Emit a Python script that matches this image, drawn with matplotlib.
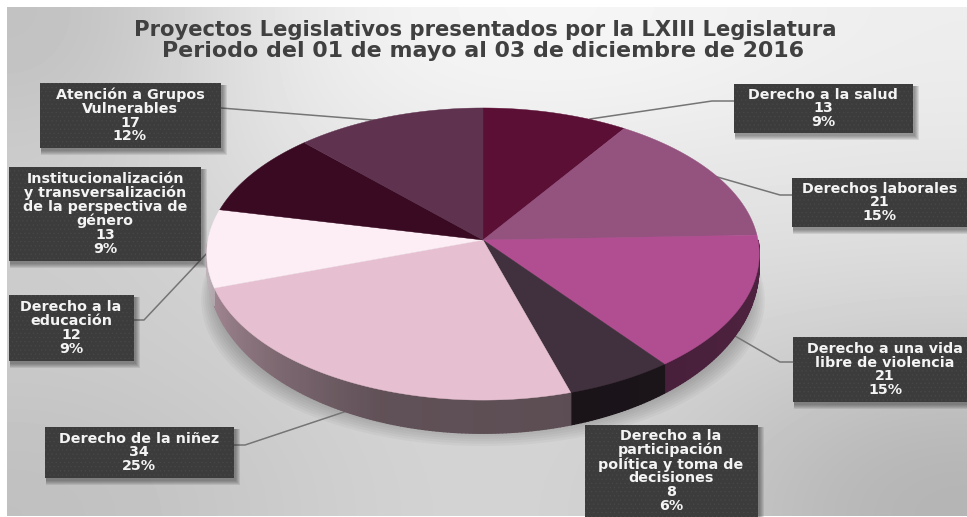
import numpy as np
import matplotlib
matplotlib.use("Agg")
import matplotlib.pyplot as plt
from matplotlib.patches import Polygon, Rectangle

categorias = ["Derecho a la salud", "Derechos laborales", "Derecho a una vida\nlibre de violencia",
              "Derecho a la\nparticipación\npolítica y toma de\ndecisiones", "Derecho de la niñez",
              "Derecho a la\neducación",
              "Institucionalización\ny transversalización\nde la perspectiva de\ngénero",
              "Atención a Grupos\nVulnerables"]
valores = [13, 21, 21, 8, 34, 12, 13, 17]
porcentajes = [9, 15, 15, 6, 25, 9, 9, 12]
colores = ["#5c0f35", "#94527f", "#b04e91", "#41303d", "#e6c0d0", "#fdeef6", "#3a0a22", "#5f324f"]

# caja de cada etiqueta en pixeles: x0, x1, y0, y1
cajas = [(734, 913, 84, 133), (792, 975, 178, 227), (793, 975, 337, 402), (585, 758, 425, 525),
         (45, 234, 427, 478), (9, 134, 295, 361), (9, 201, 167, 261), (40, 221, 83, 148)]
centros_x = [823, 880, 885, 671, 139, 71, 105, 130]
guias = [[(734, 101), (712, 101), (590, 119)], [(792, 195), (780, 195), (700, 172)],
         [(793, 362), (780, 362), (735, 336)], None, [(234, 445), (245, 445), (347, 411)],
         [(134, 320), (144, 320), (209, 251)], None, [(221, 108), (385, 121)]]

# tonos de gris del fondo, leidos a ojo
fondo = [[.75, .93, .97, .96, .93],
         [.80, .90, .92, .91, .90],
         [.80, .84, .85, .87, .86],
         [.79, .82, .84, .83, .78],
         [.75, .80, .84, .80, .70]]

W, H = 967, 517
CX, CY, RX, RY, K, PROF = 483, 240, 275, 144.7, 0.096, 30

plt.rcParams["hatch.linewidth"] = 0.4
fig = plt.figure(figsize=(W / 100, H / 100), dpi=100)
ax = fig.add_axes([0, 0, 1, 1])

ax.imshow(fondo, extent=(7, W, 516, 7), cmap="gray", vmin=0, vmax=1, zorder=0, aspect="auto",
          interpolation="bicubic")
ax.set_xlim(0, W)
ax.set_ylim(H, 0)
ax.axis("off")


def proy(th):
    u, v = np.sin(th), np.cos(th)
    s = 1 / (1 + K * v)
    return CX + RX * u * s, CY - RY * v * s, s, v


def abajo(th):
    x, y, s, v = proy(th)
    return x, y + PROF * np.sqrt(np.clip(-v, 0, None)) * s


# sombra debajo del pastel
th = np.linspace(0, 2 * np.pi, 240)
for i in range(14):
    x, y, _, _ = proy(th)
    f = 1.0 - i * 0.007
    ax.add_patch(Polygon(np.c_[CX + (x - CX) * (1.02 * f), 268 + (y - CY) * f + 18 * (1 - i / 14)],
                         fc="#4a4a4a", ec="none", alpha=0.05, zorder=1))

# lineas guia
for g_ in guias:
    if g_:
        ax.plot([p[0] for p in g_], [p[1] for p in g_], color="#757575", lw=1.1, zorder=2)

total = sum(valores)
bordes = np.cumsum([0] + valores) / total * 2 * np.pi

# costado
ang_sombra = np.radians([90, 160, 200, 225, 270])
sombra = [0.45, 0.40, 0.42, 0.55, 0.80]
for i, c in enumerate(colores):
    a0, a1 = max(bordes[i], np.pi / 2), min(bordes[i + 1], 1.5 * np.pi)
    if a1 <= a0:
        continue
    base = np.array(matplotlib.colors.to_rgb(c))
    ts = np.linspace(a0, a1, max(2, int((a1 - a0) / 0.012)))
    for t0, t1 in zip(ts[:-1], ts[1:]):
        x0, y0, _, _ = proy(t0)
        x1, y1, _, _ = proy(t1)
        x2, y2 = abajo(t1)
        x3, y3 = abajo(t0)
        col = base * np.interp((t0 + t1) / 2, ang_sombra, sombra)
        ax.add_patch(Polygon([(x0, y0), (x1, y1), (x2, y2), (x3, y3)], fc=col, ec=col, lw=1.0, zorder=3))

# cara superior
for i, c in enumerate(colores):
    ts = np.linspace(bordes[i], bordes[i + 1], 80)
    x, y, _, _ = proy(ts)
    ax.add_patch(Polygon(np.r_[[(CX, CY)], np.c_[x, y]], fc=c, ec=c, lw=0.3, zorder=4))

# etiquetas
for cat, val, pct, caja, cx_ in zip(categorias, valores, porcentajes, cajas, centros_x):
    x0, x1, y0, y1 = caja
    for j in range(5):
        ax.add_patch(Rectangle((x0 + 1, y0 + 2), x1 - x0 + 1 + j, y1 - y0 + 1 + j, fc="#222222", ec="none",
                               alpha=0.10, zorder=5))
    ax.add_patch(Rectangle((x0, y0), x1 - x0, y1 - y0, fc="#3c3c3c", ec="#484848", lw=0, hatch="....", zorder=6))
    yc = min(y1, H)
    ax.text(cx_, (y0 + yc) / 2, f"{cat}\n{val}\n{pct}%", color="#f4f4f4", fontsize=10.3,
            fontweight="bold", ha="center", va="center", linespacing=0.98, zorder=7)

ax.text(485, 30, "Proyectos Legislativos presentados por la LXIII Legislatura", color="#404040", fontsize=15.2,
        fontweight="bold", ha="center", va="center", zorder=7)
ax.text(483, 51, "Periodo del 01 de mayo al 03 de diciembre de 2016", color="#404040", fontsize=15.9,
        fontweight="bold", ha="center", va="center", zorder=7)

fig.savefig("out.png", dpi=100, facecolor="white")
